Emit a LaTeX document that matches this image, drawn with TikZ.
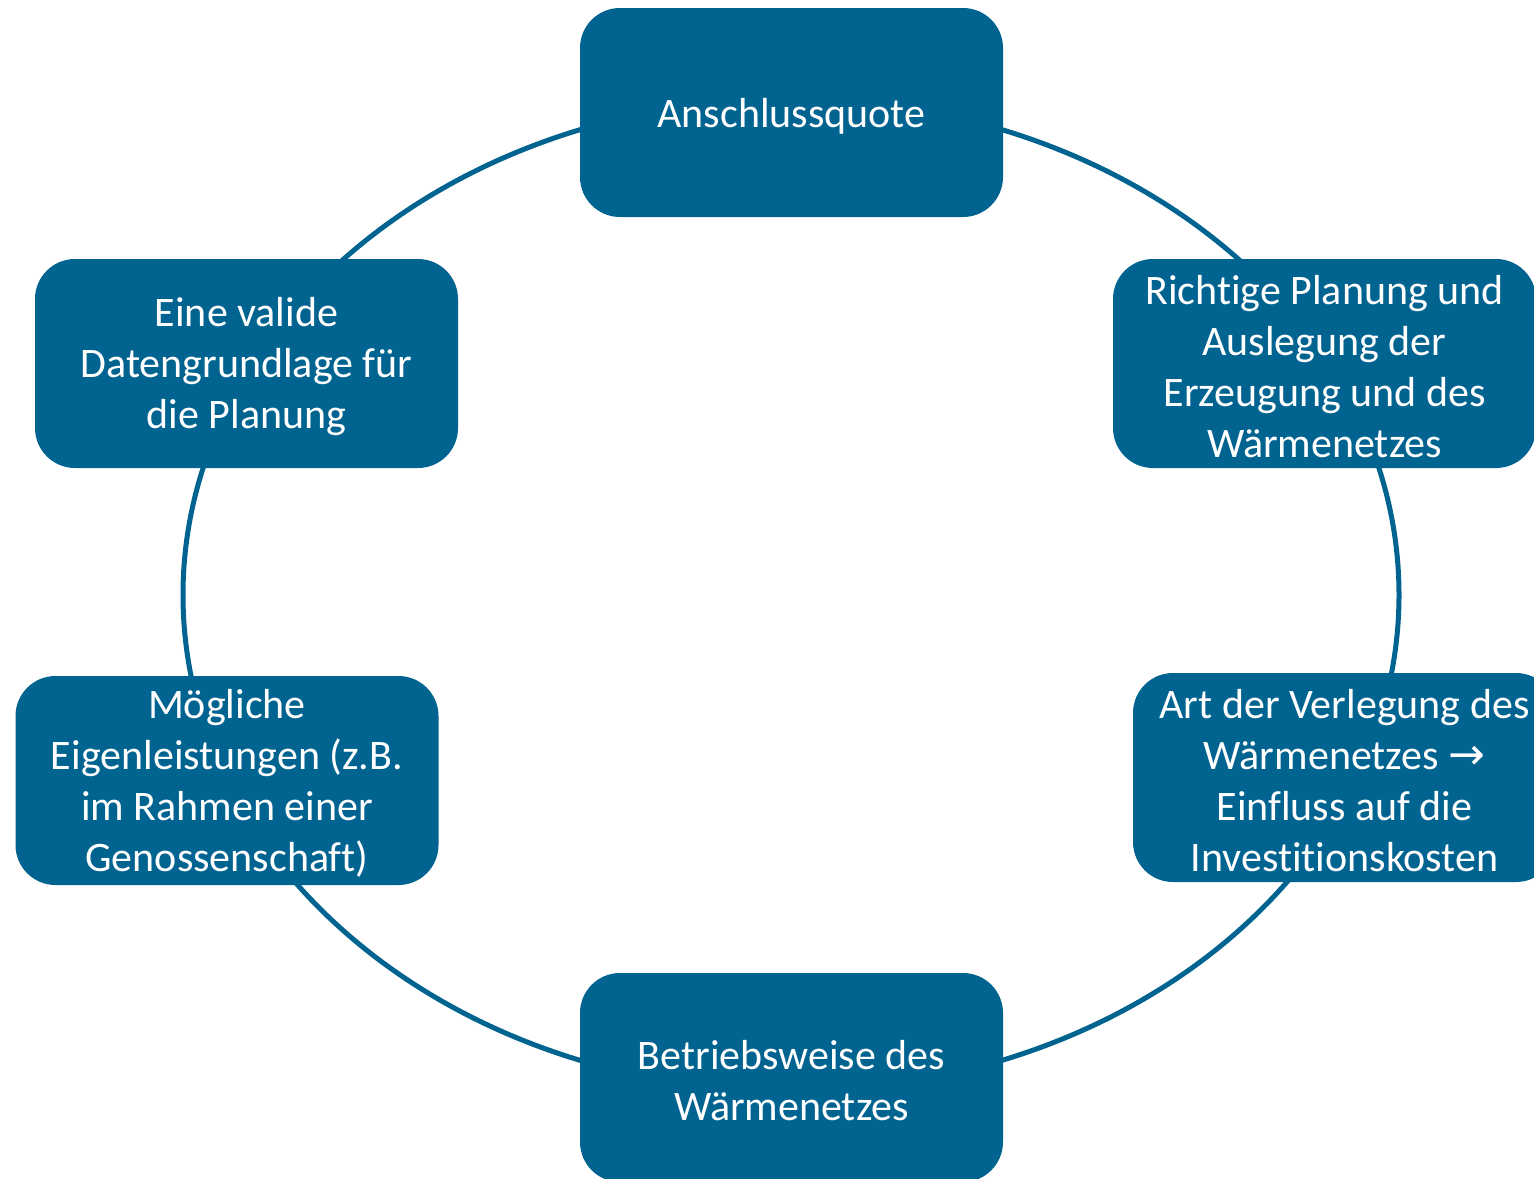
\documentclass[tikz,border=0pt]{standalone}
\usepackage{fontspec}
\setmainfont{Carlito}[Ligatures=NoCommon]
\newfontfamily\arrowfont{DejaVu Sans}
\definecolor{boxblue}{RGB}{0,99,144}
\tikzset{
  cyclebox/.style={draw=none, fill=boxblue, rounded corners=40pt,
    minimum width=423pt, minimum height=209pt, inner sep=0pt},
  boxtext/.style={text=white, inner sep=0pt, align=center,
    font=\fontsize{42}{51}\selectfont},
  ring/.style={draw=boxblue, line width=5pt}
}
\begin{document}
\begin{tikzpicture}[x=1pt,y=-1pt]
\useasboundingbox (0,0) rectangle (1534,1178);
\clip (0,0) rectangle (1534,1178);
\coordinate (c) at (791,595);
\draw[ring] (c) ellipse [x radius=608pt, y radius=496pt];
\node[cyclebox] (a) at (791.5,112.5) {};
\node[cyclebox] (b) at (1324.5,363.5) {};
\node[cyclebox] (d) at (1344.5,777.5) {};
\node[cyclebox] (e) at (791.5,1077.5) {};
\node[cyclebox] (f) at (227,780.5) {};
\node[cyclebox] (g) at (246.5,363.5) {};
\node[boxtext] (at) at ([yshift=-3.5pt]a.center) {Anschlussquote};
\node[boxtext] (bt) at ([yshift=-3pt]b.center) {Richtige Planung und\\Auslegung der\\Erzeugung und des\\Wärmenetzes};
\node[boxtext] (dt) at ([yshift=-3pt]d.center) {Art der Verlegung des\\Wärmenetzes {\arrowfont\fontsize{44}{51}\selectfont →}\\Einfluss auf die\\Investitionskosten};
\node[boxtext] (et) at ([yshift=-3pt]e.center) {Betriebsweise des\\Wärmenetzes};
\node[boxtext] (ft) at ([yshift=-3pt]f.center) {Mögliche\\Eigenleistungen (z.B.\\im Rahmen einer\\Genossenschaft)};
\node[boxtext] (gt) at ([yshift=-3pt]g.center) {Eine valide\\Datengrundlage für\\die Planung};
\end{tikzpicture}
\end{document}
